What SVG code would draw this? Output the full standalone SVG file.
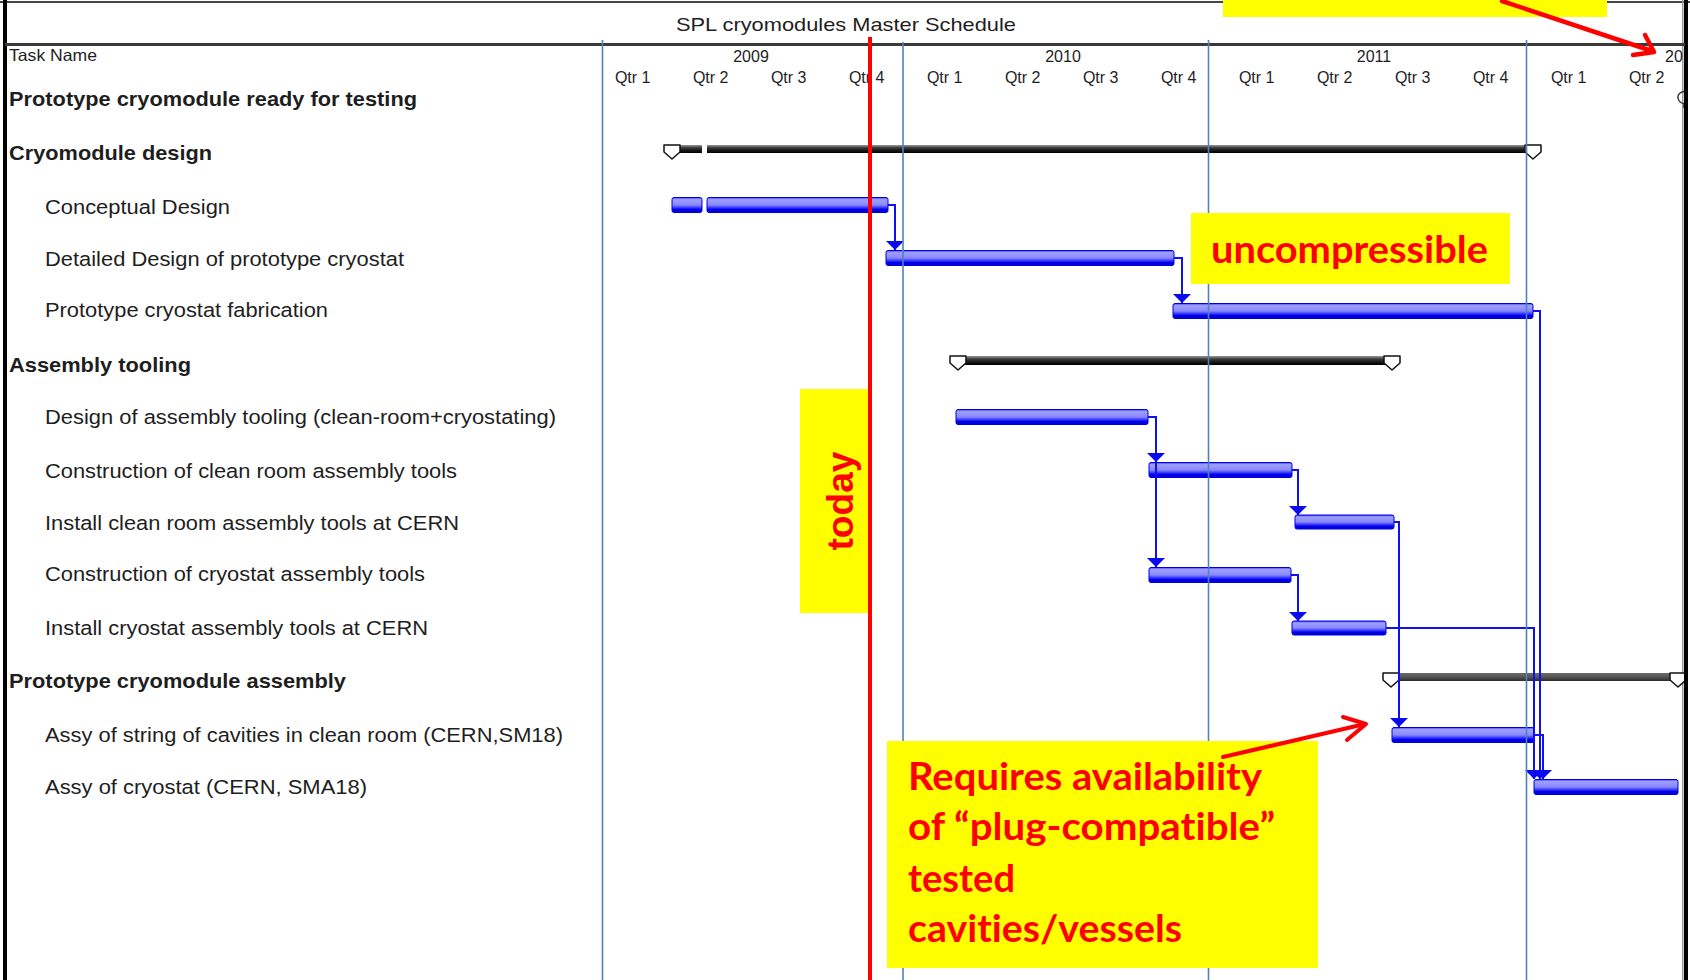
<svg xmlns="http://www.w3.org/2000/svg" xmlns:xlink="http://www.w3.org/1999/xlink" width="1690" height="980" viewBox="0 0 1690 980">
<style>
.t{font-family:"Liberation Sans",Arial,sans-serif;fill:#1e1e1e}
.lbl{font-size:20.5px}
.hd{font-size:20.5px;font-weight:bold}
.hdr{font-size:16px;text-anchor:middle}
.ann{font-family:Lato,"Liberation Sans",sans-serif;font-weight:700;fill:#ff0000;font-variant-ligatures:none;font-feature-settings:"liga" 0,"clig" 0}
.bar{fill:url(#gBlue);stroke:#0000dd;stroke-width:1}
.sum{fill:url(#gSum)}
.sm{fill:#ffffff;stroke:#111;stroke-width:1.5;stroke-linejoin:round}
.grid{stroke:#4f81bd;stroke-width:1.6;fill:none}
.con{stroke:#1010ee;stroke-width:2;fill:none;marker-end:url(#arr)}
.red{stroke:#ff0000;fill:none;stroke-linecap:round;stroke-linejoin:round}
</style>
<defs>
<linearGradient id="gBlue" x1="0" y1="0" x2="0" y2="1">
<stop offset="0" stop-color="#4040ff"/>
<stop offset="0.14" stop-color="#a0a0ff"/>
<stop offset="0.5" stop-color="#8888ff"/>
<stop offset="0.64" stop-color="#4848ff"/>
<stop offset="0.8" stop-color="#0000ee"/>
<stop offset="1" stop-color="#0000cc"/>
</linearGradient>
<linearGradient id="gSum" x1="0" y1="0" x2="0" y2="1">
<stop offset="0" stop-color="#9a9a9a"/>
<stop offset="0.35" stop-color="#3a3a3a"/>
<stop offset="0.7" stop-color="#151515"/>
<stop offset="1" stop-color="#000"/>
</linearGradient>
<linearGradient id="gSum2" x1="0" y1="0" x2="0" y2="1">
<stop offset="0" stop-color="#6a6a6a"/>
<stop offset="0.5" stop-color="#555"/>
<stop offset="1" stop-color="#2a2a2a"/>
</linearGradient>
<path id="smk" d="M0,0 h16 v7 l-8,7 l-8,-7 z"/>
<marker id="arr" viewBox="0 -10 10 20" refX="9" refY="0" markerWidth="10" markerHeight="20" markerUnits="userSpaceOnUse" orient="auto">
<path d="M0,-9 L9,0 L0,9 z" fill="#0a0aee"/>
</marker>
<clipPath id="chartClip"><rect x="0" y="0" width="1684" height="980"/></clipPath>
</defs>
<rect x="0" y="0" width="1690" height="980" fill="#ffffff"/>

<g id="frame">
<rect x="0" y="1" width="1690" height="2" fill="#444"/>
<rect x="3" y="0" width="4" height="980" fill="#000"/>
<rect x="1684" y="0" width="4" height="980" fill="#000"/>
<rect x="1682" y="0" width="1.5" height="980" fill="#999"/>
<rect x="5" y="43" width="1680" height="3" fill="#3a3a3a"/>
</g>

<g id="header">
<text class="t" x="846" y="31" font-size="19" text-anchor="middle" textLength="340" lengthAdjust="spacingAndGlyphs">SPL cryomodules Master Schedule</text>
<text class="t" x="9" y="61" font-size="16.5" textLength="88" lengthAdjust="spacingAndGlyphs">Task Name</text>
<text class="t hdr" x="751" y="62">2009</text>
<text class="t hdr" x="1063" y="62">2010</text>
<text class="t hdr" x="1374" y="62">2011</text>
<text class="t" font-size="16" x="1665" y="62">20</text>
<text class="t hdr" x="632.7" y="83">Qtr 1</text>
<text class="t hdr" x="710.7" y="83">Qtr 2</text>
<text class="t hdr" x="788.7" y="83">Qtr 3</text>
<text class="t hdr" x="866.7" y="83">Qtr 4</text>
<text class="t hdr" x="944.7" y="83">Qtr 1</text>
<text class="t hdr" x="1022.7" y="83">Qtr 2</text>
<text class="t hdr" x="1100.7" y="83">Qtr 3</text>
<text class="t hdr" x="1178.7" y="83">Qtr 4</text>
<text class="t hdr" x="1256.7" y="83">Qtr 1</text>
<text class="t hdr" x="1334.7" y="83">Qtr 2</text>
<text class="t hdr" x="1412.7" y="83">Qtr 3</text>
<text class="t hdr" x="1490.7" y="83">Qtr 4</text>
<text class="t hdr" x="1568.7" y="83">Qtr 1</text>
<text class="t hdr" x="1646.7" y="83">Qtr 2</text>
</g>

<g id="tasks" clip-path="url(#chartClip)">
<g id="task-ready">
<text class="t hd" x="9" y="106" textLength="408" lengthAdjust="spacingAndGlyphs">Prototype cryomodule ready for testing</text>
<path d="M1687,91 Q1677,92 1678,98 Q1679,104 1687,104 M1684,104 v4" fill="none" stroke="#333" stroke-width="1.5"/>
</g>
<g id="task-cryo-design">
<text class="t hd" x="9" y="160" textLength="203" lengthAdjust="spacingAndGlyphs">Cryomodule design</text>
<rect class="sum" x="664" y="145" width="38" height="8"/>
<rect class="sum" x="707" y="145" width="834" height="8"/>
<use href="#smk" class="sm" x="664" y="145"/>
<use href="#smk" class="sm" x="1525" y="145"/>
</g>
<g id="task-conceptual">
<text class="t lbl" x="45" y="214" textLength="185" lengthAdjust="spacingAndGlyphs">Conceptual Design</text>
<rect class="bar" x="672" y="197.5" width="30" height="15" rx="2"/>
<rect class="bar" x="707" y="197.5" width="181" height="15" rx="2"/>
</g>
<g id="task-detailed">
<text class="t lbl" x="45" y="266" textLength="359" lengthAdjust="spacingAndGlyphs">Detailed Design of prototype cryostat</text>
<rect class="bar" x="886" y="250.5" width="288" height="15" rx="2"/>
</g>
<g id="task-fabrication">
<text class="t lbl" x="45" y="317" textLength="283" lengthAdjust="spacingAndGlyphs">Prototype cryostat fabrication</text>
<rect class="bar" x="1173" y="303.5" width="360" height="15" rx="2"/>
</g>
<g id="task-tooling">
<text class="t hd" x="9" y="372" textLength="182" lengthAdjust="spacingAndGlyphs">Assembly tooling</text>
<rect class="sum" x="951" y="356" width="448" height="9"/>
<use href="#smk" class="sm" x="950" y="356"/>
<use href="#smk" class="sm" x="1384" y="356"/>
</g>
<g id="task-design-tooling">
<text class="t lbl" x="45" y="424" textLength="511" lengthAdjust="spacingAndGlyphs">Design of assembly tooling (clean-room+cryostating)</text>
<rect class="bar" x="956" y="409.5" width="192" height="15" rx="2"/>
</g>
<g id="task-constr-clean">
<text class="t lbl" x="45" y="478" textLength="412" lengthAdjust="spacingAndGlyphs">Construction of clean room assembly tools</text>
<rect class="bar" x="1149" y="462.5" width="143" height="15" rx="2"/>
</g>
<g id="task-install-clean">
<text class="t lbl" x="45" y="530" textLength="414" lengthAdjust="spacingAndGlyphs">Install clean room assembly tools at CERN</text>
<rect class="bar" x="1295" y="515" width="99" height="14" rx="2"/>
</g>
<g id="task-constr-cryo">
<text class="t lbl" x="45" y="581" textLength="380" lengthAdjust="spacingAndGlyphs">Construction of cryostat assembly tools</text>
<rect class="bar" x="1149" y="567.5" width="142" height="15" rx="2"/>
</g>
<g id="task-install-cryo">
<text class="t lbl" x="45" y="635" textLength="383" lengthAdjust="spacingAndGlyphs">Install cryostat assembly tools at CERN</text>
<rect class="bar" x="1292" y="621" width="94" height="14" rx="2"/>
</g>
<g id="task-proto-assembly">
<text class="t hd" x="9" y="688" textLength="337" lengthAdjust="spacingAndGlyphs">Prototype cryomodule assembly</text>
<rect x="1384" y="673" width="300" height="8" fill="url(#gSum2)"/>
<use href="#smk" class="sm" x="1383" y="673"/>
<use href="#smk" class="sm" x="1670" y="673"/>
</g>
<g id="task-assy-string">
<text class="t lbl" x="45" y="742" textLength="518" lengthAdjust="spacingAndGlyphs">Assy of string of cavities in clean room (CERN,SM18)</text>
<rect class="bar" x="1392" y="727.5" width="142" height="15" rx="2"/>
</g>
<g id="task-assy-cryostat">
<text class="t lbl" x="45" y="794" textLength="322" lengthAdjust="spacingAndGlyphs">Assy of cryostat (CERN, SMA18)</text>
<rect class="bar" x="1534" y="779.5" width="144" height="15" rx="2"/>
</g>
</g>

<g id="connectors">
<path class="con" d="M888,205 H895 V250"/>
<path class="con" d="M1174,258 H1182 V303"/>
<path class="con" d="M1533,311 H1540 V779"/>
<path class="con" d="M1148,417 H1156 V462"/>
<path class="con" d="M1156,462 V567"/>
<path class="con" d="M1292,470 H1298 V515"/>
<path class="con" d="M1394,522 H1399 V727"/>
<path class="con" d="M1291,575 H1298 V621"/>
<path class="con" d="M1386,628 H1534 V779"/>
<path class="con" d="M1534,735 H1543 V779"/>
</g>

<g id="gridlines">
<line class="grid" x1="602.5" y1="40" x2="602.5" y2="980"/>
<line class="grid" x1="903" y1="42" x2="903" y2="980"/>
<line class="grid" x1="1208.5" y1="40" x2="1208.5" y2="980"/>
<line class="grid" x1="1526.5" y1="40" x2="1526.5" y2="980"/>
</g>

<g id="today-marker">
<rect x="800" y="389" width="71" height="224" fill="#ffff00"/>
<line x1="870" y1="37" x2="870" y2="980" stroke="#ff0000" stroke-width="4"/>
<text transform="translate(853,501) rotate(-90)" font-family="'Liberation Sans',Arial,sans-serif" font-weight="bold" font-size="37" fill="#ff0000" text-anchor="middle" textLength="99" lengthAdjust="spacingAndGlyphs">today</text>
</g>

<g id="note-uncompressible">
<rect x="1191" y="213" width="319" height="71" fill="#ffff00"/>
<text class="ann" x="1211" y="263" font-size="38" textLength="277" lengthAdjust="spacingAndGlyphs">uncompressible</text>
</g>

<g id="note-requires">
<rect x="887" y="741" width="431" height="227" fill="#ffff00"/>
<text class="ann" x="908" y="790" font-size="38" textLength="354" lengthAdjust="spacingAndGlyphs">Requires availability</text>
<text class="ann" x="908" y="840" font-size="38" textLength="367" lengthAdjust="spacingAndGlyphs">of “plug-compatible”</text>
<text class="ann" x="908" y="892" font-size="38" textLength="107" lengthAdjust="spacingAndGlyphs">tested</text>
<text class="ann" x="908" y="942" font-size="38" textLength="274" lengthAdjust="spacingAndGlyphs">cavities/vessels</text>
<path class="red" stroke-width="4" d="M1223,757 L1365,724"/>
<path class="red" stroke-width="4" d="M1343,717 L1366,724 L1347,740"/>
</g>

<g id="note-top">
<rect x="1223" y="0" width="384" height="17" fill="#ffff00"/>
<path class="red" stroke-width="4.5" d="M1502,1 L1652,51"/>
<path class="red" stroke-width="4.5" d="M1645,35 L1654,52 L1633,55"/>
</g>
</svg>
